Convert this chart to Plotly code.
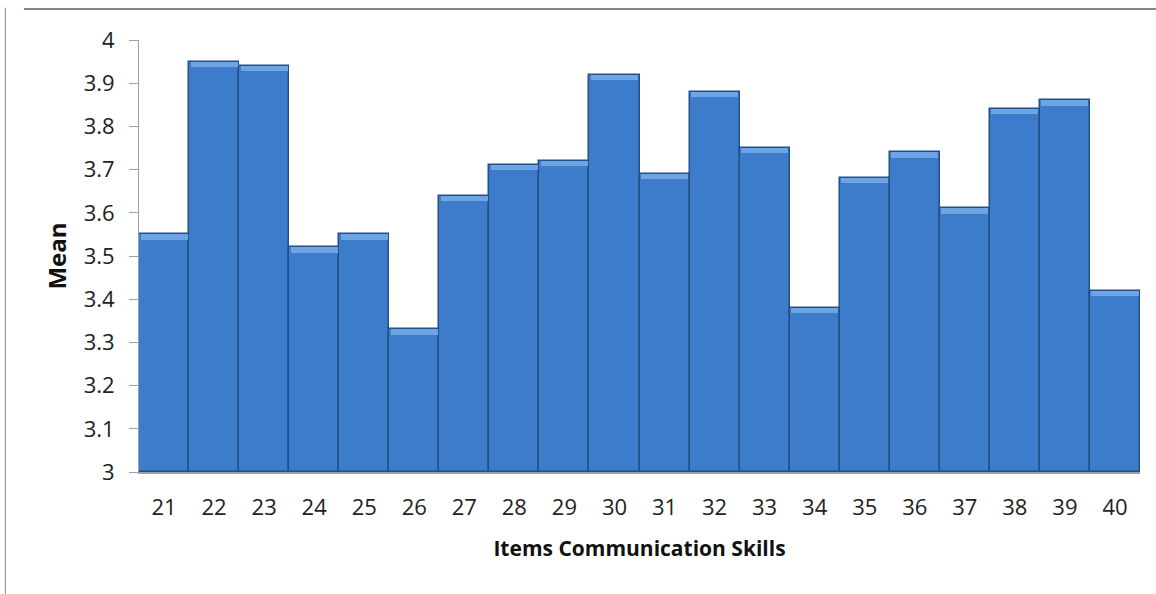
import plotly.graph_objects as go

items = [str(i) for i in range(21, 41)]
means = [3.55, 3.95, 3.94, 3.52, 3.55, 3.33, 3.64, 3.71, 3.72, 3.92,
         3.69, 3.88, 3.75, 3.38, 3.68, 3.74, 3.61, 3.84, 3.86, 3.42]
y_ticks = [3, 3.1, 3.2, 3.3, 3.4, 3.5, 3.6, 3.7, 3.8, 3.9, 4]
y_tick_text = ["3", "3.1", "3.2", "3.3", "3.4", "3.5", "3.6", "3.7", "3.8", "3.9", "4"]

BASE = 3.0
bevel = 0.012

fig = go.Figure()
fig.add_trace(go.Bar(
    x=items, y=[m - BASE for m in means], base=BASE,
    marker=dict(color="#3D7BCB", line=dict(color="#24508A", width=1.5)),
    showlegend=False, hoverinfo="x+y",
))
fig.add_trace(go.Bar(
    x=items, y=[bevel] * len(means), base=[m - bevel for m in means],
    marker=dict(color="#6EA3E4", line=dict(width=0)),
    showlegend=False, hoverinfo="skip", width=0.94,
))

font = "Open Sans"
fig.update_layout(
    barmode="overlay", bargap=0,
    width=1156, height=594,
    margin=dict(l=139, r=16, t=40, b=122),
    paper_bgcolor="white", plot_bgcolor="white",
    font=dict(family=font, color="#222222"),
    xaxis=dict(
        type="category", showline=True, linecolor="#A0A0A0", linewidth=2,
        ticks="", tickfont=dict(size=22, color="#222"), ticklabelstandoff=15,
        title=dict(text="<b>Items Communication Skills</b>", font=dict(size=21, color="#111"), standoff=21),
    ),
    yaxis=dict(
        range=[3, 4], tickvals=y_ticks, ticktext=y_tick_text,
        showline=True, linecolor="#A0A0A0", linewidth=1,
        ticks="outside", ticklen=9, tickcolor="#A0A0A0",
        showgrid=False, zeroline=False, ticklabelstandoff=10,
        tickfont=dict(size=22, color="#222"),
        title=dict(text="<b>Mean</b>", font=dict(size=24, color="#111"), standoff=10),
    ),
    shapes=[
        dict(type="line", xref="paper", yref="paper", x0=-0.115, x1=1.02, y0=1.072, y1=1.072,
             line=dict(color="#888888", width=2)),
        dict(type="line", xref="paper", yref="paper", x0=-0.1335, x1=-0.1335, y0=1.075, y1=-0.3,
             line=dict(color="#888888", width=1)),
    ],
)

fig.write_html("out.html")
